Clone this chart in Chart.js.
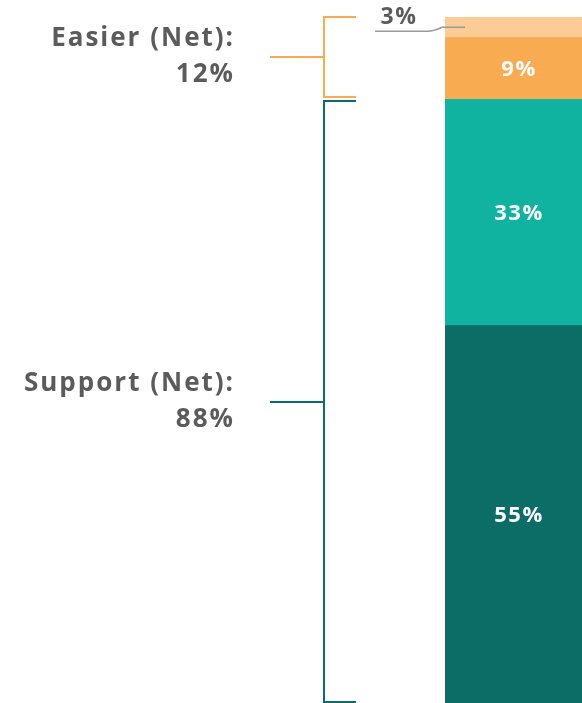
<!DOCTYPE html>
<html>
<head>
<meta charset="utf-8">
<script src="https://cdn.jsdelivr.net/npm/chart.js@4"></script>
<style>
  body { margin: 0; background: #fff; }
  #clip { width: 582px; height: 703px; overflow: hidden; position: relative; }
  #wrap { width: 600px; height: 703px; }
</style>
</head>
<body>
<div id="clip"><div id="wrap"><canvas id="myChart"></canvas></div></div>
<script>
// данные: сегменты снизу вверх
const segmentNames = ["Support 1", "Support 2", "Easier 1", "Easier 2"];
const segmentValues = [55, 33, 9, 3];
const segmentColors = ["#0C6D67", "#10B2A0", "#F9AB51", "#FDCB96"];
const labelColors = ["#fff", "#fff", "#fff", "#5b5b5b"];

// группы (Net) — индексы сегментов
const netLabels = ["Support (Net):", "Easier (Net):"];
const netValues = [88, 12];
const netSegments = [[0, 1], [2, 3]];
const netColors = ["#0C6D67", "#F9AB51"];

const textFont = "'Open Sans', sans-serif";

const bracketPlugin = {
  id: "brackets",
  afterDatasetsDraw(chart) {
    const ctx = chart.ctx;
    const y = chart.scales.y;
    const area = chart.chartArea;
    const cx = (area.left + area.right) / 2;

    // подписи внутри столбца
    let acc = 0;
    segmentValues.forEach((v, i) => {
      const y0 = y.getPixelForValue(acc);
      const y1 = y.getPixelForValue(acc + v);
      acc += v;
      const mid = (y0 + y1) / 2;
      ctx.save();
      ctx.font = "bold 22px " + textFont;
      ctx.letterSpacing = "1.5px";
      ctx.textAlign = "center";
      ctx.textBaseline = "middle";
      if (v >= 5) {
        ctx.fillStyle = labelColors[i];
        ctx.fillText(v + "%", cx, mid + 1);
      } else {
        // маленький сегмент — выноска
        ctx.strokeStyle = "#999";
        ctx.lineWidth = 1.5;
        ctx.beginPath();
        ctx.moveTo(375, mid + 4);
        ctx.lineTo(427, mid + 4);
        ctx.quadraticCurveTo(434, mid + 4, 442, mid);
        ctx.lineTo(465, mid);
        ctx.stroke();
        ctx.fillStyle = labelColors[i];
        ctx.font = "bold 23px " + textFont;
        ctx.fillText(v + "%", 399, y1);
      }
      ctx.restore();
    });

    // скобки слева
    const bx = 324, tickR = 356, tickL = 270;
    netSegments.forEach((segs, k) => {
      let start = 0;
      for (let i = 0; i < segs[0]; i++) start += segmentValues[i];
      let end = start;
      segs.forEach((s) => (end += segmentValues[s]));
      let yb = Math.round(y.getPixelForValue(start)) - 1;
      let yt = Math.round(y.getPixelForValue(end));
      if (k === 0) yt += 2; else yb -= 1;
      const mid = Math.round((yb + yt) / 2);

      ctx.save();
      ctx.strokeStyle = netColors[k];
      ctx.lineWidth = 2;
      ctx.beginPath();
      ctx.moveTo(tickR, yt);
      ctx.lineTo(bx, yt);
      ctx.lineTo(bx, yb);
      ctx.lineTo(tickR, yb);
      ctx.moveTo(tickL, mid);
      ctx.lineTo(bx, mid);
      ctx.stroke();

      ctx.fillStyle = "#5b5b5b";
      ctx.font = "bold 26px " + textFont;
      ctx.letterSpacing = "2px";
      ctx.textAlign = "right";
      ctx.textBaseline = "middle";
      ctx.fillText(netLabels[k], 235, mid - 18);
      ctx.fillText(netValues[k] + "%", 235, mid + 18);
      ctx.restore();
    });
  },
};

const ctx = document.getElementById("myChart");

new Chart(ctx, {
  type: "bar",
  data: {
    labels: [""],
    datasets: segmentValues.map((v, i) => ({
      label: segmentNames[i],
      data: [v],
      backgroundColor: segmentColors[i],
      borderWidth: 0,
      barPercentage: 1,
      categoryPercentage: 1,
    })),
  },
  options: {
    responsive: true,
    maintainAspectRatio: false,
    animation: false,
    layout: { padding: { left: 445, right: 7, top: 17, bottom: 0 } },
    plugins: { legend: { display: false }, tooltip: { enabled: false } },
    scales: {
      x: { stacked: true, display: false },
      y: { stacked: true, display: false, min: 0, max: 100 },
    },
  },
  plugins: [bracketPlugin],
});
</script>
</body>
</html>
